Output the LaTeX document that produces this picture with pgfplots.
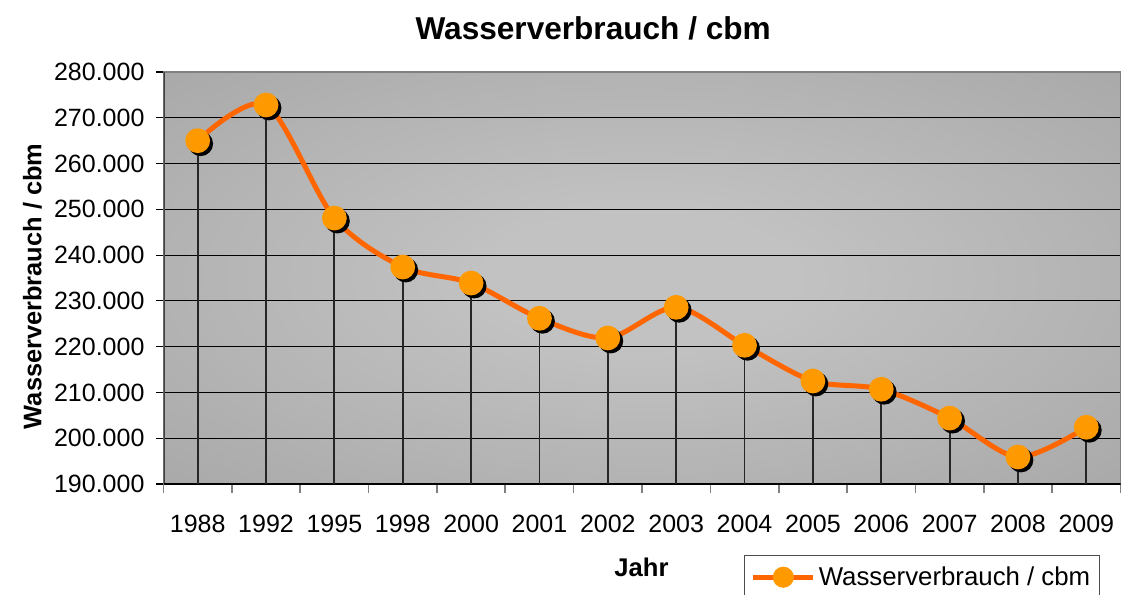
\documentclass[border=0pt]{standalone}
\usepackage{fontspec}
\setmainfont{Liberation Sans}
\usepackage{pgfplots}
\usepackage{pgfplotstable}
\pgfplotsset{compat=1.18}
\definecolor{lineor}{HTML}{FF6600}
\definecolor{markor}{HTML}{FF9900}
\definecolor{bgin}{RGB}{194,194,194}
\definecolor{bgout}{RGB}{154,154,154}
\pgfdeclareradialshading{wbg}{\pgfpoint{0bp}{0bp}}{color(0bp)=(bgin); color(8bp)=(bgin); color(52bp)=(bgout); color(75bp)=(bgout)}
\pgfdeclareplotmark{shball}{%
  \pgfpathcircle{\pgfqpoint{1.5pt}{-1.5pt}}{\pgfplotmarksize}%
  \pgfsetfillcolor{black}\pgfusepathqfill
  \pgfpathcircle{\pgfpointorigin}{\pgfplotmarksize}%
  \pgfsetfillcolor{markor}\pgfusepathqfill}
\pgfplotstableread{
x y
0 265000
1 272800
2 248100
3 237400
4 233900
5 226200
6 221900
7 228600
8 220300
9 212500
10 210700
11 204400
12 195900
13 202400
}\wasser
\begin{document}
\begin{tikzpicture}
\path[use as bounding box] (0,0) rectangle (561pt,297pt);
\begin{axis}[
  at={(81.75pt,55pt)}, anchor=south west,
  scale only axis, width=478.5pt, height=206pt,
  xmin=-0.5, xmax=13.5, ymin=190000, ymax=280000,
  axis background/.style={shading=wbg},
  axis line style={draw=black!50, line width=0.8pt},
  xtick pos=left, ytick pos=left,
  xtick={0,...,13},
  xticklabels={1988,1992,1995,1998,2000,2001,2002,2003,2004,2005,2006,2007,2008,2009},
  minor xtick={-0.5,0.5,...,13.5},
  major x tick style={draw=none},
  minor x tick style={draw=black!50, line width=0.8pt},
  minor tick length=4.5pt,
  ytick={190000,200000,...,280000},
  y tick style={draw=black, line width=0.6pt},
  major tick length=4pt,
  tick align=outside,
  ymajorgrids,
  y grid style={black, line width=0.6pt},
  scaled y ticks=false,
  /pgf/number format/.cd, fixed, 1000 sep={.}, assume math mode=true,
  /pgfplots/.cd,
  tick label style={font=\fontsize{12.5}{14}\selectfont},
  xticklabel style={yshift=-8pt},
  yticklabel style={xshift=-2pt},
  every axis title shift=0pt,
  title={Wasserverbrauch / cbm},
  title style={at={(axis description cs:0.449,1.0777)}, anchor=base, font=\fontsize{15.8}{18}\selectfont\bfseries},
  xlabel={Jahr},
  xlabel style={at={(axis description cs:0.4995,-0.2257)}, anchor=base, font=\fontsize{12.8}{14}\selectfont\bfseries},
  ylabel={Wasserverbrauch / cbm},
  ylabel style={at={(axis description cs:-0.1275,0.48)}, anchor=base, font=\fontsize{12.7}{14}\selectfont\bfseries},
  legend style={at={(axis description cs:0.607,-0.1723)}, anchor=north west, draw=black!70, fill=white,
    font=\fontsize{12.9}{15}\selectfont, inner xsep=3pt, inner ysep=4pt,
    nodes={inner sep=1.5pt}},
  legend cell align=left,
]
\draw[black!75, line width=1pt] (rel axis cs:0,0) -- (rel axis cs:0,1);
\draw[black, line width=0.8pt] (rel axis cs:0,0) -- (rel axis cs:1,0);
\addplot[ycomb, black!85, line width=0.9pt, forget plot] table[x=x,y=y] {\wasser};
\addplot[lineor, line width=2.5pt, smooth, tension=0.5, mark=shball, mark size=6.2pt,
  legend image code/.code={\draw[lineor, line width=2.5pt] (0pt,0pt) -- (30pt,0pt); \fill[markor] (15pt,0pt) circle (4pt);}]
  table[x=x,y=y] {\wasser};
\addlegendentry{Wasserverbrauch / cbm}
\end{axis}
\end{tikzpicture}
\end{document}
